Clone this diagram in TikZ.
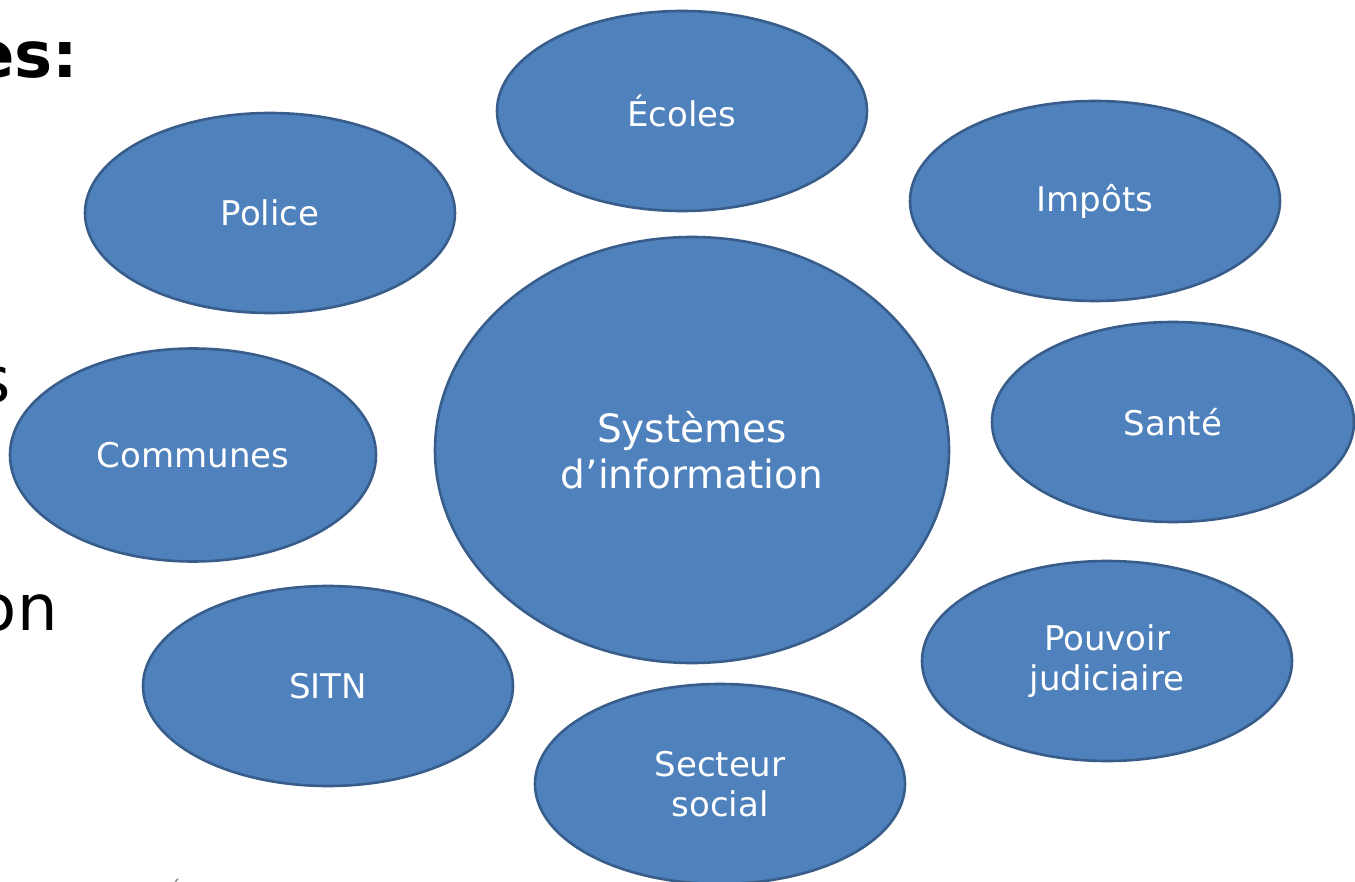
\documentclass[tikz,border=0pt]{standalone}
\usepackage{fontspec}
\setmainfont{DejaVu Sans}
\usetikzlibrary{shapes.geometric}
\definecolor{fillBlue}{HTML}{4F81BD}
\definecolor{lineBlue}{HTML}{385D8A}

\begin{document}
\begin{tikzpicture}[x=0.5pt,y=-0.5pt]
		\clip (0,0) rectangle (1355,882);
		\fill[white] (0,0) rectangle (1355,882);
		\begin{scope}
            [
                styleDomain/.style={
					ellipse, draw=lineBlue, fill=fillBlue, line width=1.3pt,
					minimum width=185pt, minimum height=100pt,
					text=white, align=center, font=\fontsize{17}{20}\selectfont
					},
				styleCore/.style={styleDomain, minimum width=257pt, minimum height=213pt,
					font=\fontsize{19.5}{23}\selectfont},
				styleSlide/.style={inner sep=0pt, anchor=base east, font=\fontsize{32}{38}\selectfont},
            ]
			\node(core)[styleCore] at (692,450) {Systèmes\\d’information};

			\node(ecoles)[styleDomain] at (682,111) {Écoles};
			\node(impots)[styleDomain] at (1095,201) {Impôts};
			\node(sante)[styleDomain, minimum width=181pt] at (1173,422) {Santé};
			\node(pouvoir)[styleDomain] at (1107,661) {Pouvoir\\judiciaire};
			\node(social)[styleDomain] at (720,784) {Secteur\\social};
			\node(sitn)[styleDomain] at (328,686) {SITN};
			\node(communes)[styleDomain, minimum width=183pt, minimum height=106.5pt] at (193,455) {Communes};
			\node(police)[styleDomain] at (270,213) {Police};

			\node(titre)[styleSlide, font=\fontsize{32}{38}\selectfont\bfseries] at (79,78) {es:};
			\node(ligneA)[styleSlide] at (11,402) {s};
			\node(ligneB)[styleSlide] at (58,630) {on};
			\node(pied)[inner sep=0pt, anchor=base west, text=gray, font=\fontsize{12}{14}\selectfont] at (168,901) {É};
		\end{scope}
    \end{tikzpicture}
\end{document}
